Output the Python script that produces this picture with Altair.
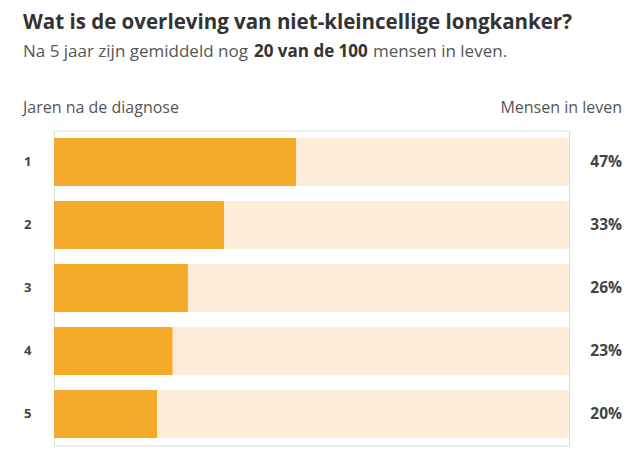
import altair as alt
import pandas as pd

# Data
years = ["1", "2", "3", "4", "5"]
survival = [47, 33, 26, 23, 20]
labels = ["47%", "33%", "26%", "23%", "20%"]
full = [100, 100, 100, 100, 100]

title_text = "Wat is de overleving van niet-kleincellige longkanker?"
sub_parts = ["Na 5 jaar zijn gemiddeld nog", "20 van de 100", "mensen in leven."]
left_header = "Jaren na de diagnose"
right_header = "Mensen in leven"

FONT = "Open Sans"
ORANGE = "#F5AB29"
LIGHT = "#FDECD8"

df = pd.DataFrame({"year": years, "value": survival, "label": labels, "full": full})

yenc = alt.Y("year:N", sort=years, axis=None,
             scale=alt.Scale(paddingInner=15/63, paddingOuter=7.5/63))
xscale = alt.Scale(domain=[0, 100], nice=False)

base = alt.Chart(df)

bg = base.mark_bar(color=LIGHT).encode(
    x=alt.X("full:Q", scale=xscale, axis=None), y=yenc)
fg = base.mark_bar(color=ORANGE).encode(
    x=alt.X("value:Q", scale=xscale, axis=None), y=yenc)

row_lab = base.mark_text(align="left", baseline="middle", font=FONT,
                         fontWeight="bold", fontSize=13, color="#444").encode(
    x=alt.value(-30), y=yenc, text="year:N")
pct_lab = base.mark_text(align="right", baseline="middle", font=FONT,
                         fontWeight="bold", fontSize=15.5, color="#444").encode(
    x=alt.value(568), y=yenc, text="label:N")


def txt(s, x, y, size, weight="normal", color="#555", align="left"):
    return alt.Chart(pd.DataFrame({"t": [s]})).mark_text(
        align=align, baseline="alphabetic", font=FONT, fontSize=size,
        fontWeight=weight, color=color).encode(
        x=alt.value(x), y=alt.value(y), text="t:N")


title = txt(title_text, -31, -101.5, 20.5, "bold", "#333")
sub1 = txt(sub_parts[0], -31, -73.5, 17, "normal", "#555")
sub2 = txt(sub_parts[1], 200, -73.5, 17, "bold", "#333")
sub3 = txt(sub_parts[2], 319, -73.5, 17, "normal", "#555")
h1 = txt(left_header, -31, -17.5, 16, "normal", "#555")
h2 = txt(right_header, 568, -17.5, 16, "normal", "#555", align="right")

chart = alt.layer(bg, fg, row_lab, pct_lab, title, sub1, sub2, sub3, h1, h2).properties(
    width=515, height=315,
    autosize=alt.AutoSizeParams(type="none"),
    padding={"left": 46, "top": 122.5, "right": 59, "bottom": 7},
).configure_view(stroke=None).configure(background="white")

chart.save("out.html", embed_options={"renderer": "svg", "actions": False})
